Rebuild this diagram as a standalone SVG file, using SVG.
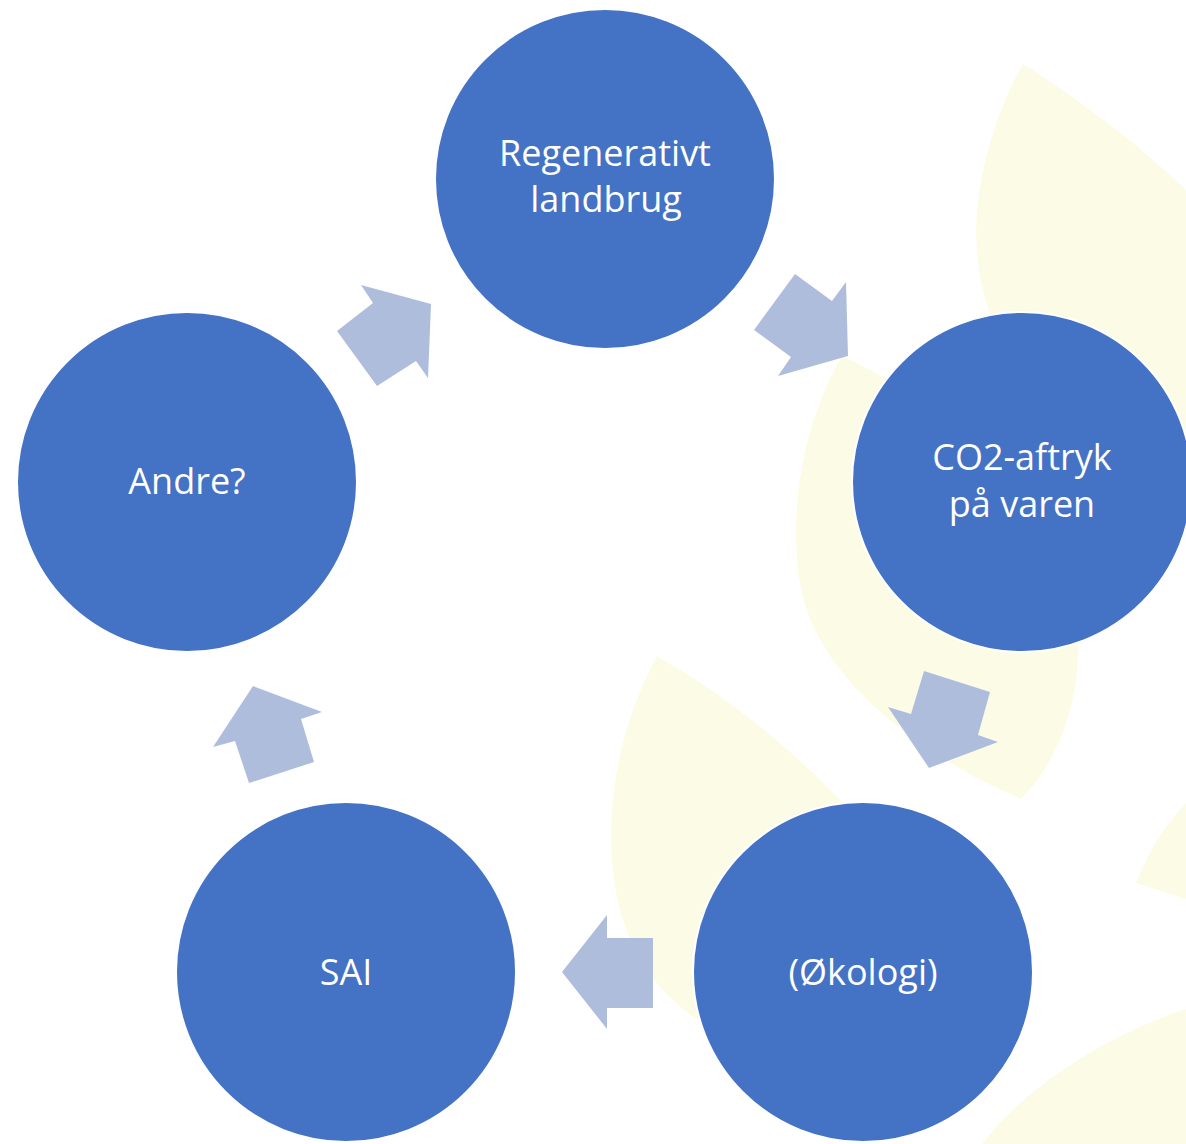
<svg xmlns="http://www.w3.org/2000/svg" width="1186" height="1144" viewBox="0 0 1186 1144">
<style>
.leaf{fill:#FCFCE6;stroke:none}
.arrow{fill:#AFBDDD;stroke:none}
.node circle{fill:#4472C4;stroke:#FFFFFF;stroke-width:2}
.node text{fill:#FFFFFF;font-family:"Open Sans","Noto Sans","Liberation Sans",sans-serif;font-size:36px;text-anchor:middle}
</style>
<rect width="1186" height="1144" fill="#FFFFFF"/>
<g id="background">
<path class="leaf" d="M1023,64 C990,120 972,200 977,250 C980,290 990,320 1010,360 L1030,482 L1186,482 L1186,190 C1140,145 1080,100 1023,64 Z"/>
<path class="leaf" d="M842,356 C805,420 790,500 798,570 C806,650 870,720 980,780 L1021,799 C1060,760 1080,700 1078,640 L1000,500 L960,420 L885,378 Q860,364 842,356 Z"/>
<path class="leaf" d="M657,656 C622,720 605,800 613,870 C620,940 650,990 705,1025 L760,1000 L845,805 Q760,715 657,656 Z"/>
<path class="leaf" d="M1136,883 Q1155,835 1186,803 L1186,899 Z"/>
<path class="leaf" d="M1186,1009 C1120,1030 1030,1080 982,1144 L1186,1144 Z"/>
</g>
<g id="connectors">
<polygon class="arrow" points="795,274 832,301 846,282 848,356 778,376 791,357 754,330"/>
<polygon class="arrow" points="924,671 990,692 978,735 998,742 929,768 888,707 911,714"/>
<polygon class="arrow" points="607,915 607,938 653,938 653,1008 607,1008 607,1029 562,972"/>
<polygon class="arrow" points="253,686 322,712 301,719 314,762 249,783 235,741 213,747"/>
<polygon class="arrow" points="361,285 431,304 428,378 416,361 377,386 337,331 373,303"/>
</g>
<g id="node-regenerativt" class="node">
<circle cx="605" cy="179" r="170"/>
<text x="605" y="166">Regenerativt</text>
<text x="606" y="212">landbrug</text>
</g>
<g id="node-co2" class="node">
<circle cx="1022" cy="482" r="170"/>
<text x="1022" y="470">CO2-aftryk</text>
<text x="1022" y="517">på varen</text>
</g>
<g id="node-okologi" class="node">
<circle cx="863" cy="972" r="170"/>
<text x="863" y="985">(Økologi)</text>
</g>
<g id="node-sai" class="node">
<circle cx="346" cy="972" r="170"/>
<text x="346" y="985">SAI</text>
</g>
<g id="node-andre" class="node">
<circle cx="187" cy="482" r="170"/>
<text x="187" y="494">Andre?</text>
</g>
</svg>
